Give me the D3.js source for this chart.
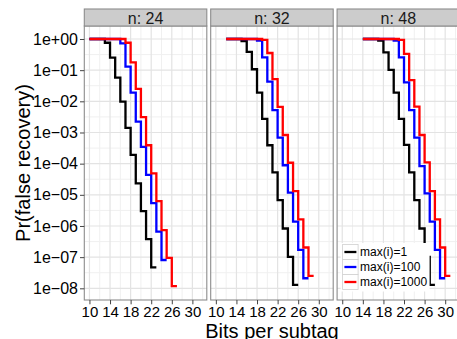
<!DOCTYPE html>
<html><head><meta charset="utf-8">
<script src="https://cdn.jsdelivr.net/npm/d3@7"></script>
<style>
body{margin:0;background:#fff}
svg{display:block}
text{font-family:"Liberation Sans",Arial,Helvetica,sans-serif;fill:#000}
</style>
</head><body><svg id="c" width="457" height="339"></svg>
<script>
// ---- data ----
const panelLabels = ["n: 24", "n: 32", "n: 48"];
const seriesLabels = ["max(i)=1", "max(i)=100", "max(i)=1000"];
const startBits = [10, 12, 14];   // first bits value of each panel

// Pr(false recovery) at bits = start, start+1, ...
const n24_max1    = [1,1,1,1,0.759,0.251,0.0575,0.00977,0.00141,1.9e-4,2.34e-5,3.0e-6,3.8e-7,4.7e-8];
const n24_max100  = [1,1,1,1,1,1,1,0.724,0.129,0.0191,0.00224,3.47e-4,4.37e-5,5.4e-6,6.6e-7,8.1e-8];
const n24_max1000 = [1,1,1,1,1,1,1,1,0.759,0.178,0.0251,0.00309,3.89e-4,4.9e-5,6.3e-6,7.4e-7,9.5e-8,1.17e-8];

const n32_max1    = [1,1,1,1,0.851,0.389,0.107,0.0191,0.00275,3.89e-4,5.25e-5,6.8e-6,8.3e-7,1.02e-7,1.29e-8];
const n32_max100  = [1,1,1,1,1,1,1,0.891,0.257,0.0427,0.00525,6.8e-4,8.9e-5,1.17e-5,1.38e-6,1.7e-7,2.1e-8];
const n32_max1000 = [1,1,1,1,1,1,1,1,0.933,0.355,0.0513,0.0066,8.3e-4,1.07e-4,1.32e-5,1.62e-6,2.04e-7,2.5e-8];

const n48_max1    = [1,1,1,1,0.891,0.372,0.102,0.0191,0.00275,3.98e-4,5.25e-5,6.8e-6,8.3e-7,1.02e-7,1.29e-8];
const n48_max100  = [1,1,1,1,1,1,1,0.891,0.257,0.0407,0.00525,6.8e-4,8.3e-5,1.12e-5,1.38e-6,1.7e-7,2.1e-8];
const n48_max1000 = [1,1,1,1,1,1,1,1,0.933,0.331,0.0479,0.00676,8.3e-4,1.1e-4,1.32e-5,1.62e-6,2.04e-7,2.5e-8];

const xTicks = [10, 14, 18, 22, 26, 30];
const xMinor = [12, 16, 20, 24, 28, 32];
const yTicks = [1, 1e-1, 1e-2, 1e-3, 1e-4, 1e-5, 1e-6, 1e-7, 1e-8];
const yTickLabels = ["1e+00","1e\u221201","1e\u221202","1e\u221203","1e\u221204","1e\u221205","1e\u221206","1e\u221207","1e\u221208"];
const yMinorExp = [-0.5,-1.5,-2.5,-3.5,-4.5,-5.5,-6.5,-7.5];

const panelSeries = [
  [n24_max1, n24_max100, n24_max1000],
  [n32_max1, n32_max100, n32_max1000],
  [n48_max1, n48_max100, n48_max1000]
];

// ---- styles / layout ----
const colors = ["#000000", "#0000FF", "#FF0000"];
const panelX0 = 84.3, panelPitch = 126.4, panelW = 122.5;
const panelTop = 26, panelBottom = 300, stripTop = 9;

const svg = d3.select("#c");

const x = d3.scaleLinear().domain([9.0, 32.8]).range([0, panelW]);
const y = d3.scaleLog().domain([Math.pow(10, 0.417), Math.pow(10, -8.375)]).range([panelTop, panelBottom]);

const line = d3.line()
  .x(d => x(d.b))
  .y(d => y(d.p))
  .curve(d3.curveStepBefore);

panelLabels.forEach((lab, i) => {
  const g = svg.append("g").attr("transform", `translate(${panelX0 + i * panelPitch},0)`);
  g.append("rect").attr("x", 0).attr("y", panelTop).attr("width", panelW)
    .attr("height", panelBottom - panelTop).attr("fill", "#fff");
  // minor grid
  g.selectAll(".vmin").data(xMinor).join("line")
    .attr("x1", d => x(d)).attr("x2", d => x(d))
    .attr("y1", panelTop).attr("y2", panelBottom)
    .attr("stroke", "#F0F0F0").attr("stroke-width", 1);
  g.selectAll(".hmin").data(yMinorExp).join("line")
    .attr("x1", 0).attr("x2", panelW)
    .attr("y1", d => y(Math.pow(10, d))).attr("y2", d => y(Math.pow(10, d)))
    .attr("stroke", "#F0F0F0").attr("stroke-width", 1);
  // major grid
  g.selectAll(".vmaj").data(xTicks).join("line")
    .attr("x1", d => x(d)).attr("x2", d => x(d))
    .attr("y1", panelTop).attr("y2", panelBottom)
    .attr("stroke", "#E3E3E3").attr("stroke-width", 1.2);
  g.selectAll(".hmaj").data(yTicks).join("line")
    .attr("x1", 0).attr("x2", panelW)
    .attr("y1", d => y(d)).attr("y2", d => y(d))
    .attr("stroke", "#E3E3E3").attr("stroke-width", 1.2);

  // series
  panelSeries[i].forEach((vals, s) => {
    const pts = vals.map((p, k) => ({ b: startBits[i] + k, p }));
    g.append("path").datum(pts).attr("d", line)
      .attr("fill", "none").attr("stroke", colors[s])
      .attr("stroke-width", 2.3).attr("stroke-linejoin", "miter");
  });

  // panel border
  g.append("rect").attr("x", 0).attr("y", panelTop).attr("width", panelW)
    .attr("height", panelBottom - panelTop).attr("fill", "none")
    .attr("stroke", "#8C8C8C").attr("stroke-width", 1.1);
  // strip
  g.append("rect").attr("x", 0).attr("y", stripTop).attr("width", panelW)
    .attr("height", panelTop - stripTop).attr("fill", "#CCCCCC")
    .attr("stroke", "#8C8C8C").attr("stroke-width", 1.1);
  g.append("text").attr("x", panelW / 2).attr("y", (stripTop + panelTop) / 2 + 0.5)
    .attr("text-anchor", "middle").attr("dominant-baseline", "central")
    .attr("font-size", 16).style("fill", "#1a1a1a").text(lab);

  // x axis
  const xa = g.append("g").attr("transform", `translate(0,${panelBottom})`)
    .call(d3.axisBottom(x).tickValues(xTicks).tickSize(4.3).tickPadding(2.5).tickFormat(d3.format("d")));
  xa.select(".domain").remove();
  xa.selectAll(".tick line").attr("stroke", "#444");
  xa.selectAll(".tick text").attr("font-size", 15).attr("font-family", null).style("fill", "#000");

  if (i === 0) {
    const ya = g.append("g")
      .call(d3.axisLeft(y).tickValues(yTicks).tickSize(4.3).tickPadding(2)
        .tickFormat((d, k) => yTickLabels[k]));
    ya.select(".domain").remove();
    ya.selectAll(".tick line").attr("stroke", "#444");
    ya.selectAll(".tick text").attr("font-size", 16).attr("font-family", null).style("fill", "#000");
  }
});

// legend inside third panel
const lg = svg.append("g").attr("transform", `translate(${panelX0 + 2 * panelPitch + 5.5},244.5)`);
lg.append("rect").attr("x", -2).attr("y", -1.5).attr("width", 89).attr("height", 48.5).attr("fill", "#fff");
seriesLabels.forEach((lab, s) => {
  const row = lg.append("g").attr("transform", `translate(0,${s * 15})`);
  row.append("rect").attr("x", 0).attr("y", 0).attr("width", 15.5).attr("height", 15)
    .attr("fill", "#fff").attr("stroke", "#D0D0D0").attr("stroke-width", 0.8);
  row.append("line").attr("x1", 1.8).attr("x2", 13.8).attr("y1", 7.5).attr("y2", 7.5)
    .attr("stroke", colors[s]).attr("stroke-width", 2.3);
  row.append("text").attr("x", 17.5).attr("y", 7.7).attr("dominant-baseline", "central")
    .attr("font-size", 12).style("fill", "#000").text(lab);
});

// axis titles
svg.append("text").attr("transform", `translate(30,${(panelTop + panelBottom) / 2}) rotate(-90)`)
  .attr("text-anchor", "middle").attr("font-size", 20).text("Pr(false recovery)");
svg.append("text").attr("x", 272).attr("y", 337.6)
  .attr("text-anchor", "middle").attr("font-size", 20).text("Bits per subtag");
</script>
</body></html>
